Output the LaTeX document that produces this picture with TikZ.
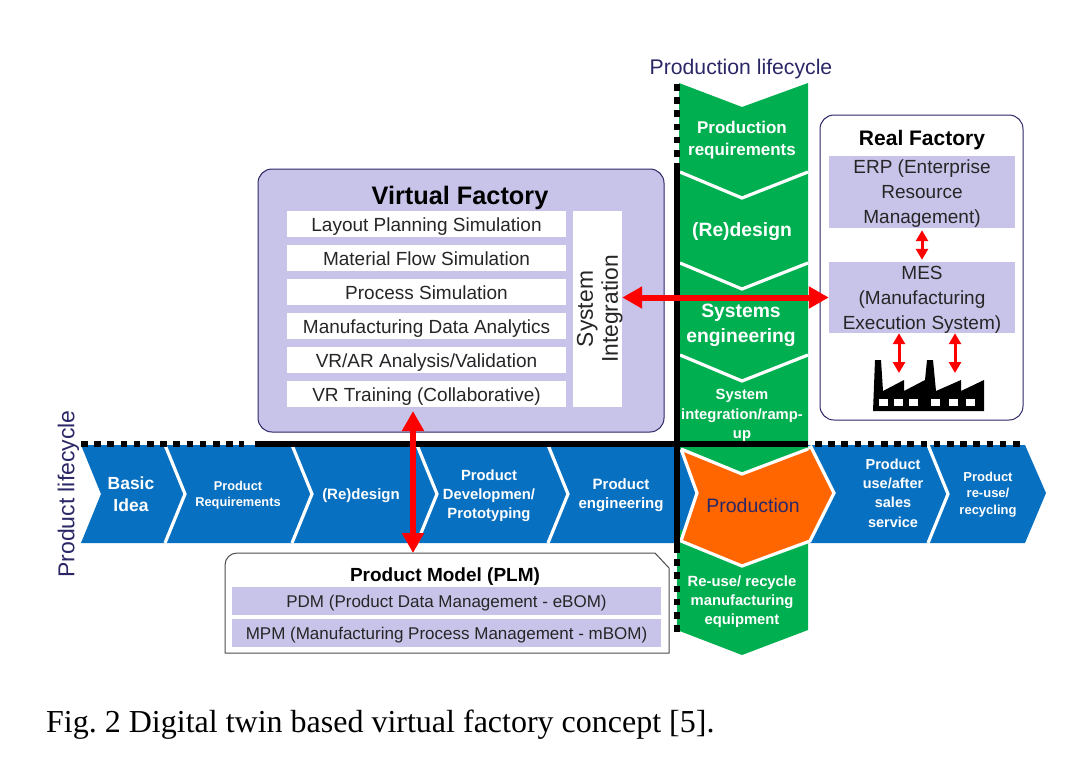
\documentclass[tikz,border=0pt]{standalone}
\usepackage{fontspec}
\setmainfont{Liberation Sans}
\newfontfamily\captionfont{Liberation Serif}
\usepackage{xcolor}
\usetikzlibrary{calc, positioning, arrows.meta}
\newcommand{\fsz}[2]{\fontsize{#1}{#2}\selectfont}
\definecolor{bandblue}{HTML}{0870C0}
\definecolor{bandgreen}{HTML}{00AF50}
\definecolor{bandorange}{HTML}{FF6600}
\definecolor{lilac}{HTML}{C8C3E9}
\definecolor{navy}{HTML}{2B2766}
\tikzset{
	every node/.style={text depth=0pt},
	bandtext/.style 2 args={text=white, align=center, inner sep=0pt, font=\bfseries\fsz{#1}{#2}},
	sepline/.style={white, line width=3.2pt},
	solidbar/.style={black, line width=5.5pt},
	dotbar/.style={black, line width=6.5pt, dash pattern=on 6.5pt off 6.7pt},
	rowbox/.style={fill=white, minimum width=279pt, minimum height=26pt, inner sep=0pt, text height=16pt, text depth=1.5pt, text=black!85, font=\fsz{19}{22}},
	lilacbox/.style={fill=lilac, inner sep=0pt, align=center, text=black!85},
	frame/.style={draw=navy, line width=1pt, rounded corners=14pt, inner sep=0pt},
	biglink/.style={red, line width=6pt, {Triangle[length=20pt,width=21pt]}-{Triangle[length=20pt,width=21pt]}},
	smalllink/.style={red, line width=3pt, {Triangle[length=11pt,width=12pt]}-{Triangle[length=11pt,width=12pt]}}
}
\begin{document}
\frenchspacing
\begin{tikzpicture}[x=1pt, y=-1pt, node distance=34pt]
	\useasboundingbox (0,0) rectangle (1083,774);

	% bands %
	\fill[bandblue] (81,445) -- (1025,445) -- (1046,493) -- (1025,543) -- (81,543) -- (101,494) -- cycle;
	\foreach \x in {165,292,417,548,928} {
		\draw[sepline] (\x,445) -- (\x+20,494) -- (\x,543);
	}
	\fill[bandgreen] (677,530) -- (808,530) -- (808,630) -- (742,655) -- (677,630) -- cycle;
	\filldraw[bandorange, draw=white, line width=3.2pt] (681,449) -- (742,473) -- (811,447) -- (834,493) -- (810,541) -- (742,566) -- (681,541) -- (697,493) -- cycle;
	\fill[bandgreen] (679,83) -- (742,107) -- (808,83) -- (808,449) -- (742,473) -- (679,449) -- cycle;
	\draw[sepline] (681,449) -- (742,474) -- (808,449);
	\foreach \y in {172,263,355} {
		\draw[sepline] (680,\y) -- (742,\y+26) -- (808,\y);
	}

	% bars %
	\draw[solidbar] (255,444) -- (808,444);
	\draw[solidbar] (677,170) -- (677,546);
	\draw[dotbar] (81,444) -- (244,444);
	\draw[dotbar] (815,444) -- (1026,444);
	\draw[dotbar] (677,84) -- (677,170);
	\draw[dotbar] (677,546) -- (677,632);

	% band labels %
	\node[bandtext={17}{22}] (prodreq) at (742,138) {Production\\requirements};
	\node[bandtext={19.3}{22}] (redesign) at (742,230) {(Re)design};
	\node[bandtext={19.3}{25}] (syseng) at (741,323) {Systems\\engineering};
	\node[bandtext={14.8}{19.5}] (sysint) at (742,414) {System\\integration/ramp-\\up};
	\node[bandtext={14.8}{19}] (reuse) at (742,600) {Re-use/ recycle\\manufacturing\\equipment};
	\node[bandtext={17.5}{22}] (basic) at (131,494) {Basic\\Idea};
	\node[bandtext={12.8}{16}] (requirements) at (238,494) {Product\\Requirements};
	\node[bandtext={15}{19}] (productredesign) at (361,494) {(Re)design};
	\node[bandtext={14.8}{19}] (development) at (489,494) {Product\\Developmen/\\Prototyping};
	\node[bandtext={15}{19}] (engineering) at (621,494) {Product\\engineering};
	\node[inner sep=0pt, text=navy, font=\fsz{19.5}{22}] (production) at (753,505) {Production};
	\node[bandtext={14.5}{19.3}] (use) at (893,493) {Product\\use/after\\sales\\service};
	\node[bandtext={13}{16.5}] (recycling) at (988,493) {Product\\re-use/\\recycling};

	% lifecycle labels %
	\node[text=navy, inner sep=0pt, font=\fsz{21.2}{24}] (prodlife) at (741,67) {Production lifecycle};
	\node[rotate=90, text=navy, inner sep=0pt, font=\fsz{23}{26}] (productlife) at (66,494) {Product lifecycle};

	% virtual factory %
	\node[frame, fill=lilac, minimum width=406pt, minimum height=263pt] (virtual) at (461,300.5) {};
	\node[inner sep=0pt, font=\bfseries\fsz{25.3}{28}] (virtualtitle) at (460,195) {Virtual Factory};
	\node[rowbox] (layout) at (426.5,224) {Layout Planning Simulation};
	\node[rowbox, below of = layout] (material) {Material Flow Simulation};
	\node[rowbox, below of = material] (process) {Process Simulation};
	\node[rowbox, below of = process] (analytics) {Manufacturing Data Analytics};
	\node[rowbox, below of = analytics] (validation) {VR/AR Analysis/Validation};
	\node[rowbox, below of = validation] (training) {VR Training (Collaborative)};
	\node[fill=white, minimum width=49pt, minimum height=196pt, inner sep=0pt] (integbox) at (597.5,309) {};
	\node[rotate=90, align=center, inner sep=0pt, text=black!85, font=\fsz{22.8}{25}] (integration) at (597.5,309) {System\\Integration};

	% real factory %
	\node[frame, fill=white, minimum width=203pt, minimum height=305pt] (real) at (921.5,267.5) {};
	\node[inner sep=0pt, font=\bfseries\fsz{21}{24}] (realtitle) at (922,138) {Real Factory};
	\node[lilacbox, minimum width=186pt, minimum height=72pt, font=\fsz{19}{25}] (erp) at (922,192) {ERP (Enterprise\\Resource\\Management)};
	\node[lilacbox, minimum width=186pt, minimum height=71pt, font=\fsz{19}{25}] (mes) at (922,297.5) {MES\\(Manufacturing\\Execution System)};
	\fill[black] (873,411) -- (875,360) -- (881,360) -- (883,391) -- (904,380) -- (904,391) -- (925,380) -- (927,360) -- (933,360) -- (936,391) -- (961,380) -- (961,391) -- (984,380) -- (984,411) -- cycle;
	\foreach \x in {879,894,909,931,949,966} {
		\fill[white] (\x,399) rectangle (\x+9,406);
	}
	\coordinate (machineleft) at (899,373);
	\coordinate (machineright) at (955,373);

	% product model %
	\filldraw[fill=white, draw=black!70, line width=1pt] (225,653) -- (225,567) [rounded corners=12pt] -- (225,553) [sharp corners] -- (655,553) -- (669,568) -- (669,653) -- cycle;
	\node[inner sep=0pt, font=\bfseries\fsz{19}{22}] (plmtitle) at (445,575) {Product Model (PLM)};
	\node[lilacbox, minimum width=429pt, minimum height=28pt, font=\fsz{17}{20}] (pdm) at (446.5,601) {PDM (Product Data Management - eBOM)};
	\node[lilacbox, minimum width=429pt, minimum height=28pt, font=\fsz{17}{20}] (mpm) at (446.5,633) {MPM (Manufacturing Process Management - mBOM)};
	\coordinate (trainfoot) at (413,411);
	\coordinate (plmhead) at (413,553);

	% links %
	\draw[biglink] (integbox.east |- mes.west) -- (mes.west);
	\draw[biglink] (trainfoot) -- (plmhead);
	\draw[smalllink] ($(erp.south)+(0,2)$) -- ($(mes.north)+(0,-2)$);
	\draw[smalllink] (mes.south -| machineleft) -- (machineleft);
	\draw[smalllink] (mes.south -| machineright) -- (machineright);

	% caption %
	\node[anchor=west, inner sep=0pt, font=\captionfont\fsz{32}{36}] (caption) at (46,721) {Fig. 2 Digital twin based virtual factory concept [5].};
\end{tikzpicture}
\end{document}
